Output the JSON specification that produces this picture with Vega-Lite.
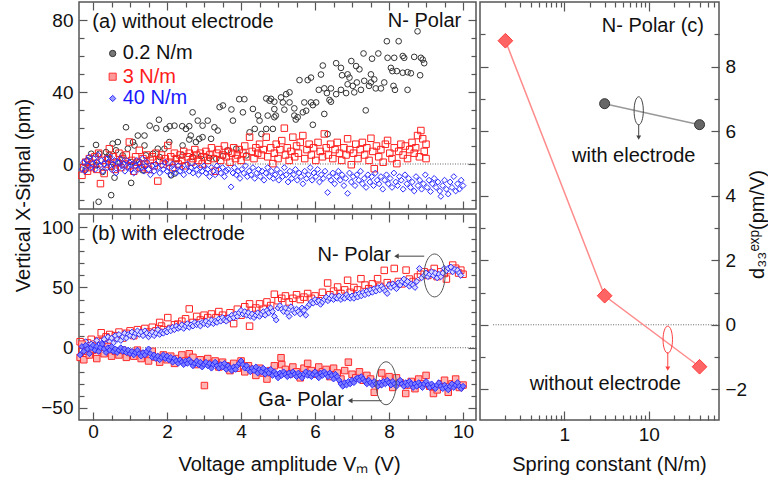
{
"$schema":"https://vega.github.io/schema/vega-lite/v6.json",
"padding":{"left":12,"top":0,"right":0,"bottom":0},
"config":{
 "font":"Liberation Sans",
 "view":{"stroke":"#555","strokeWidth":1.5},
 "point":{"opacity":1,"strokeWidth":1},
 "text":{"font":"Liberation Sans","fontSize":20,"color":"#111"},
 "axis":{"domain":false,"grid":false,"tickColor":"#555","tickWidth":1.2,"labelFont":"Liberation Sans","labelFontSize":19,"labelColor":"#111","titleFont":"Liberation Sans","titleFontSize":20,"titleFontWeight":"normal","titleColor":"#111","labelFlush":false,"labelOverlap":false,"labelPadding":14}
},
"datasets":{
"a_k":[{"x":-0.2,"y":-3},{"x":-0.15,"y":2},{"x":-0.05,"y":5.7},{"x":0.08,"y":10.6},{"x":0.08,"y":-0.7},{"x":0.15,"y":-21},{"x":0.17,"y":5.7},{"x":0.26,"y":-4.4},{"x":0.35,"y":6.6},{"x":0.4,"y":2.9},{"x":0.44,"y":5.2},{"x":0.49,"y":-17.3},{"x":0.49,"y":-1.7},{"x":0.53,"y":11.3},{"x":0.58,"y":-7.6},{"x":0.62,"y":7.6},{"x":0.67,"y":12.2},{"x":0.72,"y":0.7},{"x":0.8,"y":4.8},{"x":0.89,"y":20.4},{"x":0.94,"y":8.5},{"x":1.03,"y":-10.5},{"x":1.03,"y":1.1},{"x":1.08,"y":12.2},{"x":1.12,"y":10.3},{"x":1.21,"y":15.8},{"x":1.25,"y":1.1},{"x":1.34,"y":-3.5},{"x":1.39,"y":15.8},{"x":1.39,"y":10.3},{"x":1.43,"y":4.8},{"x":1.53,"y":21.3},{"x":1.62,"y":5.7},{"x":1.71,"y":19.9},{"x":1.75,"y":8.5},{"x":1.78,"y":24.6},{"x":1.8,"y":3.9},{"x":1.93,"y":8.5},{"x":1.98,"y":19.5},{"x":2.06,"y":12.2},{"x":2.07,"y":21},{"x":2.11,"y":-6.3},{"x":2.2,"y":21.3},{"x":2.2,"y":-5.3},{"x":2.24,"y":2.9},{"x":2.41,"y":21},{"x":2.42,"y":10.3},{"x":2.42,"y":4.8},{"x":2.51,"y":19.5},{"x":2.6,"y":21},{"x":2.6,"y":13.6},{"x":2.64,"y":15.8},{"x":2.69,"y":28.7},{"x":2.69,"y":3.9},{"x":2.78,"y":12.2},{"x":2.83,"y":24.1},{"x":2.87,"y":14},{"x":2.92,"y":4.4},{"x":2.96,"y":21.3},{"x":2.96,"y":14.9},{"x":3.1,"y":24.1},{"x":3.14,"y":3.3},{"x":3.19,"y":14},{"x":3.28,"y":20.4},{"x":3.33,"y":2.9},{"x":3.37,"y":18.6},{"x":3.42,"y":31.6},{"x":3.51,"y":32.5},{"x":3.51,"y":4.4},{"x":3.64,"y":7.6},{"x":3.74,"y":30.3},{"x":3.78,"y":24.1},{"x":3.87,"y":8.5},{"x":3.95,"y":36},{"x":4.05,"y":28.7},{"x":4.09,"y":36},{"x":4.14,"y":4.8},{"x":4.23,"y":17.6},{"x":4.32,"y":30.6},{"x":4.37,"y":19.5},{"x":4.46,"y":27},{"x":4.5,"y":24.1},{"x":4.55,"y":16.7},{"x":4.68,"y":36.4},{"x":4.68,"y":19.5},{"x":4.72,"y":26.9},{"x":4.77,"y":35.2},{"x":4.81,"y":36.2},{"x":4.86,"y":19.5},{"x":4.9,"y":26},{"x":4.9,"y":34.6},{"x":4.9,"y":30.5},{"x":4.94,"y":26.9},{"x":5.08,"y":37},{"x":5.13,"y":34.2},{"x":5.17,"y":30.2},{"x":5.22,"y":38.8},{"x":5.31,"y":39.8},{"x":5.31,"y":34.2},{"x":5.44,"y":30.9},{"x":5.44,"y":26.9},{"x":5.48,"y":24.7},{"x":5.53,"y":26},{"x":5.58,"y":46.6},{"x":5.67,"y":28.7},{"x":5.71,"y":34.2},{"x":5.76,"y":29.6},{"x":5.8,"y":46.6},{"x":5.89,"y":48},{"x":5.89,"y":34.2},{"x":5.94,"y":32.7},{"x":5.94,"y":21.8},{"x":6.03,"y":34.2},{"x":6.1,"y":41.2},{"x":6.16,"y":49.7},{"x":6.21,"y":54.7},{"x":6.25,"y":42},{"x":6.25,"y":27.8},{"x":6.32,"y":39.4},{"x":6.34,"y":16.6},{"x":6.39,"y":35.6},{"x":6.43,"y":42},{"x":6.43,"y":34.6},{"x":6.57,"y":56},{"x":6.57,"y":38.8},{"x":6.7,"y":53.4},{"x":6.7,"y":41.2},{"x":6.73,"y":49.3},{"x":6.84,"y":39.4},{"x":6.88,"y":49.8},{"x":6.88,"y":44.3},{"x":6.93,"y":48},{"x":6.98,"y":57.2},{"x":7.02,"y":43.4},{"x":7.06,"y":39.8},{"x":7.11,"y":54.4},{"x":7.13,"y":45.3},{"x":7.2,"y":52.6},{"x":7.24,"y":41.2},{"x":7.31,"y":61.4},{"x":7.33,"y":46.2},{"x":7.37,"y":29.8},{"x":7.46,"y":43.4},{"x":7.51,"y":49.8},{"x":7.51,"y":45.3},{"x":7.54,"y":58.5},{"x":7.6,"y":47},{"x":7.64,"y":42},{"x":7.71,"y":61.4},{"x":7.78,"y":42},{"x":7.87,"y":45.3},{"x":7.94,"y":68.2},{"x":7.96,"y":59},{"x":8.05,"y":53.4},{"x":8.09,"y":51.6},{"x":8.12,"y":43.4},{"x":8.14,"y":59},{"x":8.16,"y":41.2},{"x":8.21,"y":51.6},{"x":8.26,"y":68.2},{"x":8.37,"y":60},{"x":8.37,"y":50.7},{"x":8.41,"y":59},{"x":8.5,"y":51},{"x":8.5,"y":41.2},{"x":8.59,"y":50.4},{"x":8.68,"y":59.5},{"x":8.77,"y":73.7},{"x":8.84,"y":49.3},{"x":8.86,"y":59},{"x":8.91,"y":58},{"x":8.95,"y":56}],
"a_r":[{"x":-0.3,"y":-6.3},{"x":-0.25,"y":-2},{"x":-0.2,"y":1},{"x":-0.15,"y":-4},{"x":-0.1,"y":3},{"x":-0.05,"y":-2},{"x":0,"y":0},{"x":0.05,"y":4},{"x":0.1,"y":-3},{"x":0.15,"y":6},{"x":0.2,"y":-10.9},{"x":0.25,"y":2},{"x":0.3,"y":-5.3},{"x":0.35,"y":0},{"x":0.4,"y":3},{"x":0.44,"y":8.5},{"x":0.5,"y":-1},{"x":0.55,"y":4},{"x":0.6,"y":-3},{"x":0.65,"y":1},{"x":0.7,"y":6},{"x":0.75,"y":-2},{"x":0.8,"y":3},{"x":0.85,"y":0},{"x":0.9,"y":5},{"x":0.98,"y":12.2},{"x":1,"y":-1},{"x":1.05,"y":2},{"x":1.1,"y":-4},{"x":1.15,"y":4},{"x":1.2,"y":1},{"x":1.25,"y":7.6},{"x":1.3,"y":-2},{"x":1.35,"y":3},{"x":1.4,"y":0},{"x":1.45,"y":5},{"x":1.5,"y":-3},{"x":1.55,"y":2},{"x":1.6,"y":4},{"x":1.65,"y":-1},{"x":1.7,"y":6},{"x":1.75,"y":-9.5},{"x":1.8,"y":2},{"x":1.85,"y":5},{"x":1.9,"y":0},{"x":1.95,"y":3},{"x":2.02,"y":10.3},{"x":2.05,"y":1},{"x":2.1,"y":4},{"x":2.15,"y":-2},{"x":2.2,"y":6},{"x":2.25,"y":3},{"x":2.3,"y":0},{"x":2.35,"y":5},{"x":2.4,"y":2},{"x":2.45,"y":7},{"x":2.5,"y":-1},{"x":2.55,"y":4},{"x":2.6,"y":6},{"x":2.65,"y":1},{"x":2.7,"y":3},{"x":2.75,"y":8},{"x":2.8,"y":5},{"x":2.85,"y":2},{"x":2.9,"y":6},{"x":2.95,"y":0},{"x":3,"y":4},{"x":3.05,"y":7},{"x":3.1,"y":2},{"x":3.15,"y":5},{"x":3.2,"y":9},{"x":3.25,"y":3},{"x":3.3,"y":-4},{"x":3.35,"y":6},{"x":3.4,"y":8},{"x":3.45,"y":2},{"x":3.5,"y":5},{"x":3.55,"y":10},{"x":3.6,"y":4},{"x":3.65,"y":7},{"x":3.7,"y":1},{"x":3.75,"y":6},{"x":3.8,"y":9},{"x":3.85,"y":3},{"x":3.9,"y":5},{"x":3.95,"y":8},{"x":4,"y":2},{"x":4.05,"y":6},{"x":4.1,"y":10},{"x":4.15,"y":4},{"x":4.23,"y":14.9},{"x":4.3,"y":7},{"x":4.35,"y":3},{"x":4.4,"y":9},{"x":4.45,"y":6},{"x":4.5,"y":11},{"x":4.55,"y":5},{"x":4.6,"y":8},{"x":4.68,"y":14.9},{"x":4.72,"y":4},{"x":4.8,"y":9},{"x":4.86,"y":0.2},{"x":4.9,"y":6},{"x":4.95,"y":11},{"x":5,"y":3},{"x":5.05,"y":8},{"x":5.1,"y":13},{"x":5.17,"y":19.9},{"x":5.2,"y":5},{"x":5.25,"y":9},{"x":5.3,"y":2},{"x":5.35,"y":7},{"x":5.4,"y":14.9},{"x":5.45,"y":4},{"x":5.5,"y":10},{"x":5.55,"y":6},{"x":5.6,"y":12},{"x":5.67,"y":15.8},{"x":5.72,"y":3},{"x":5.78,"y":8},{"x":5.84,"y":11},{"x":5.9,"y":5},{"x":5.96,"y":9},{"x":6.02,"y":2},{"x":6.08,"y":12},{"x":6.14,"y":7},{"x":6.2,"y":4},{"x":6.25,"y":16.7},{"x":6.3,"y":9},{"x":6.36,"y":5},{"x":6.42,"y":11},{"x":6.48,"y":3},{"x":6.54,"y":8},{"x":6.6,"y":12},{"x":6.66,"y":6},{"x":6.72,"y":2},{"x":6.78,"y":9},{"x":6.84,"y":5},{"x":6.88,"y":14},{"x":6.94,"y":8},{"x":6.98,"y":-0.4},{"x":7.04,"y":6},{"x":7.1,"y":11},{"x":7.16,"y":3},{"x":7.22,"y":8},{"x":7.28,"y":12},{"x":7.34,"y":5},{"x":7.4,"y":9},{"x":7.46,"y":2},{"x":7.51,"y":14.3},{"x":7.56,"y":7},{"x":7.6,"y":-2.6},{"x":7.66,"y":10},{"x":7.72,"y":4},{"x":7.78,"y":8},{"x":7.84,"y":1},{"x":7.9,"y":11},{"x":7.96,"y":13.1},{"x":8.02,"y":6},{"x":8.08,"y":3},{"x":8.14,"y":9},{"x":8.21,"y":0.2},{"x":8.26,"y":7},{"x":8.32,"y":11},{"x":8.38,"y":5},{"x":8.44,"y":10},{"x":8.5,"y":3},{"x":8.56,"y":8},{"x":8.62,"y":12},{"x":8.68,"y":6},{"x":8.72,"y":9},{"x":8.77,"y":15.8},{"x":8.82,"y":4},{"x":8.86,"y":18.6},{"x":8.91,"y":14},{"x":8.95,"y":7},{"x":9,"y":11},{"x":9,"y":3}],
"a_b":[{"x":-0.3,"y":-3},{"x":-0.26,"y":1},{"x":-0.22,"y":-4},{"x":-0.18,"y":2},{"x":-0.14,"y":-1},{"x":-0.1,"y":4},{"x":-0.06,"y":-2},{"x":-0.02,"y":0},{"x":0.02,"y":3},{"x":0.06,"y":-3},{"x":0.1,"y":1},{"x":0.14,"y":5},{"x":0.18,"y":-1},{"x":0.22,"y":2},{"x":0.26,"y":-4},{"x":0.3,"y":0},{"x":0.34,"y":3},{"x":0.38,"y":-2},{"x":0.42,"y":1},{"x":0.46,"y":4},{"x":0.5,"y":-3},{"x":0.54,"y":0},{"x":0.58,"y":2},{"x":0.62,"y":-5},{"x":0.66,"y":1},{"x":0.7,"y":-2},{"x":0.74,"y":3},{"x":0.78,"y":-1},{"x":0.82,"y":0},{"x":0.86,"y":-4},{"x":0.9,"y":2},{"x":0.94,"y":-2},{"x":0.98,"y":1},{"x":1.02,"y":-3},{"x":1.06,"y":0},{"x":1.1,"y":-5},{"x":1.14,"y":-1},{"x":1.18,"y":2},{"x":1.22,"y":-3},{"x":1.26,"y":0},{"x":1.3,"y":-2},{"x":1.34,"y":3},{"x":1.38,"y":-4},{"x":1.42,"y":-1},{"x":1.46,"y":1},{"x":1.5,"y":-3},{"x":1.55,"y":-6},{"x":1.6,"y":-1},{"x":1.65,"y":-4},{"x":1.7,"y":0},{"x":1.75,"y":-2},{"x":1.8,"y":-5},{"x":1.85,"y":-1},{"x":1.9,"y":-3},{"x":1.95,"y":1},{"x":2,"y":-4},{"x":2.05,"y":-2},{"x":2.1,"y":-6},{"x":2.15,"y":0},{"x":2.2,"y":-3},{"x":2.25,"y":-5},{"x":2.3,"y":-1},{"x":2.35,"y":-4},{"x":2.4,"y":-2},{"x":2.45,"y":-6},{"x":2.5,"y":-3},{"x":2.55,"y":0},{"x":2.6,"y":-4},{"x":2.65,"y":-2},{"x":2.7,"y":-5},{"x":2.75,"y":-1},{"x":2.8,"y":-3},{"x":2.85,"y":-6},{"x":2.9,"y":-2},{"x":2.95,"y":-4},{"x":3,"y":-1},{"x":3.05,"y":-5},{"x":3.1,"y":-3},{"x":3.15,"y":-7},{"x":3.2,"y":-2},{"x":3.25,"y":-4},{"x":3.3,"y":-6},{"x":3.35,"y":-1},{"x":3.4,"y":-3},{"x":3.45,"y":-5},{"x":3.5,"y":-2},{"x":3.55,"y":-7},{"x":3.6,"y":-4},{"x":3.65,"y":-3},{"x":3.73,"y":-12.7},{"x":3.78,"y":-5},{"x":3.82,"y":-2},{"x":3.87,"y":-6},{"x":3.92,"y":-4},{"x":3.97,"y":-8},{"x":4.02,"y":-3},{"x":4.07,"y":-5},{"x":4.12,"y":-1},{"x":4.17,"y":-7},{"x":4.22,"y":-4},{"x":4.27,"y":-6},{"x":4.32,"y":-2},{"x":4.37,"y":-8},{"x":4.42,"y":-5},{"x":4.47,"y":-3},{"x":4.52,"y":-7},{"x":4.57,"y":-4},{"x":4.62,"y":-9},{"x":4.67,"y":-5},{"x":4.72,"y":-2},{"x":4.77,"y":-7},{"x":4.82,"y":-4},{"x":4.87,"y":-8},{"x":4.92,"y":-6},{"x":4.97,"y":-3},{"x":5.02,"y":-9},{"x":5.07,"y":-5},{"x":5.12,"y":-7},{"x":5.17,"y":-2},{"x":5.22,"y":-6},{"x":5.27,"y":-10},{"x":5.32,"y":-4},{"x":5.37,"y":-8},{"x":5.42,"y":-6},{"x":5.47,"y":-3},{"x":5.52,"y":-9},{"x":5.57,"y":-5},{"x":5.62,"y":-7},{"x":5.67,"y":-11},{"x":5.72,"y":-4},{"x":5.77,"y":-8},{"x":5.82,"y":-6},{"x":5.87,"y":-2},{"x":5.92,"y":-9},{"x":5.97,"y":-5},{"x":6.02,"y":-7},{"x":6.07,"y":-3},{"x":6.12,"y":-10},{"x":6.17,"y":-6},{"x":6.22,"y":-8},{"x":6.27,"y":-4},{"x":6.34,"y":-15.8},{"x":6.38,"y":-7},{"x":6.43,"y":-9},{"x":6.48,"y":-5},{"x":6.53,"y":-11},{"x":6.58,"y":-7},{"x":6.63,"y":-4},{"x":6.68,"y":-9},{"x":6.73,"y":-6},{"x":6.78,"y":-12},{"x":6.83,"y":-8},{"x":6.88,"y":-16.3},{"x":6.93,"y":-5},{"x":6.98,"y":-10},{"x":7.03,"y":-7},{"x":7.08,"y":-12},{"x":7.13,"y":-6},{"x":7.18,"y":-9},{"x":7.23,"y":-4},{"x":7.28,"y":-11},{"x":7.33,"y":-8},{"x":7.38,"y":-13},{"x":7.43,"y":-6},{"x":7.48,"y":-10},{"x":7.53,"y":-7},{"x":7.58,"y":-12},{"x":7.63,"y":-5},{"x":7.68,"y":-9},{"x":7.73,"y":-11},{"x":7.78,"y":-7},{"x":7.83,"y":-14},{"x":7.88,"y":-9},{"x":7.93,"y":-6},{"x":7.98,"y":-11},{"x":8.03,"y":-8},{"x":8.08,"y":-13},{"x":8.13,"y":-5},{"x":8.18,"y":-10},{"x":8.23,"y":-12},{"x":8.28,"y":-7},{"x":8.33,"y":-9},{"x":8.38,"y":-14},{"x":8.43,"y":-6},{"x":8.48,"y":-11},{"x":8.53,"y":-8},{"x":8.58,"y":-13},{"x":8.63,"y":-10},{"x":8.68,"y":-15},{"x":8.73,"y":-7},{"x":8.78,"y":-12},{"x":8.83,"y":-9},{"x":8.88,"y":-14},{"x":8.93,"y":-11},{"x":8.98,"y":-6},{"x":9.03,"y":-13},{"x":9.08,"y":-9},{"x":9.12,"y":-15.3},{"x":9.17,"y":-11},{"x":9.22,"y":-8},{"x":9.27,"y":-13},{"x":9.32,"y":-10},{"x":9.37,"y":-15},{"x":9.4,"y":-18},{"x":9.45,"y":-12},{"x":9.5,"y":-9},{"x":9.55,"y":-14},{"x":9.6,"y":-16.7},{"x":9.65,"y":-10},{"x":9.7,"y":-13},{"x":9.75,"y":-7},{"x":9.8,"y":-15},{"x":9.85,"y":-11},{"x":9.9,"y":-14},{"x":9.95,"y":-9},{"x":10,"y":-12}],
"b_bn":[{"x":-0.35,"y":-8},{"x":-0.3,"y":2},{"x":-0.25,"y":-3},{"x":-0.2,"y":5},{"x":-0.15,"y":0},{"x":-0.1,"y":-4},{"x":-0.05,"y":3},{"x":0,"y":1},{"x":0.05,"y":-2},{"x":0.1,"y":6},{"x":0.15,"y":2},{"x":0.2,"y":-1},{"x":0.25,"y":4},{"x":0.3,"y":7},{"x":0.35,"y":3},{"x":0.4,"y":9},{"x":0.45,"y":5},{"x":0.5,"y":8},{"x":0.55,"y":4},{"x":0.6,"y":10},{"x":0.65,"y":7},{"x":0.7,"y":11},{"x":0.75,"y":6},{"x":0.8,"y":9},{"x":0.85,"y":12},{"x":0.9,"y":8},{"x":0.95,"y":11},{"x":1,"y":10},{"x":1.05,"y":13},{"x":1.1,"y":9},{"x":1.15,"y":12},{"x":1.2,"y":14},{"x":1.25,"y":11},{"x":1.3,"y":13},{"x":1.35,"y":10},{"x":1.4,"y":14},{"x":1.45,"y":12},{"x":1.5,"y":9},{"x":1.55,"y":11},{"x":1.6,"y":13},{"x":1.65,"y":10},{"x":1.7,"y":12},{"x":1.75,"y":15},{"x":1.8,"y":11},{"x":1.85,"y":13},{"x":1.9,"y":12},{"x":1.95,"y":14},{"x":2,"y":13},{"x":2.05,"y":16},{"x":2.1,"y":14},{"x":2.15,"y":17},{"x":2.2,"y":15},{"x":2.25,"y":18},{"x":2.3,"y":16},{"x":2.35,"y":17},{"x":2.4,"y":19},{"x":2.45,"y":16},{"x":2.5,"y":18},{"x":2.55,"y":20},{"x":2.6,"y":17},{"x":2.65,"y":19},{"x":2.7,"y":18},{"x":2.75,"y":21},{"x":2.8,"y":19},{"x":2.85,"y":20},{"x":2.9,"y":18},{"x":2.95,"y":21},{"x":3,"y":20},{"x":3.05,"y":22},{"x":3.1,"y":19},{"x":3.15,"y":21},{"x":3.2,"y":23},{"x":3.25,"y":20},{"x":3.3,"y":22},{"x":3.35,"y":21},{"x":3.4,"y":24},{"x":3.45,"y":22},{"x":3.5,"y":25},{"x":3.55,"y":23},{"x":3.6,"y":22},{"x":3.65,"y":25},{"x":3.7,"y":24},{"x":3.75,"y":27},{"x":3.8,"y":25},{"x":3.85,"y":28},{"x":3.9,"y":26},{"x":3.95,"y":29},{"x":4,"y":31},{"x":4.05,"y":28},{"x":4.1,"y":30},{"x":4.15,"y":27},{"x":4.2,"y":29},{"x":4.25,"y":26},{"x":4.3,"y":28},{"x":4.35,"y":25},{"x":4.4,"y":27},{"x":4.45,"y":29},{"x":4.5,"y":26},{"x":4.55,"y":28},{"x":4.6,"y":30},{"x":4.65,"y":27},{"x":4.7,"y":31},{"x":4.75,"y":29},{"x":4.8,"y":33},{"x":4.85,"y":30},{"x":4.9,"y":26},{"x":4.95,"y":23},{"x":5,"y":33},{"x":5.05,"y":35},{"x":5.1,"y":32},{"x":5.15,"y":30},{"x":5.2,"y":33},{"x":5.25,"y":29},{"x":5.3,"y":26},{"x":5.35,"y":34},{"x":5.4,"y":31},{"x":5.45,"y":29},{"x":5.5,"y":32},{"x":5.55,"y":30},{"x":5.6,"y":28},{"x":5.65,"y":33},{"x":5.7,"y":31},{"x":5.75,"y":27},{"x":5.8,"y":34},{"x":5.85,"y":36},{"x":5.9,"y":38},{"x":5.95,"y":37},{"x":6,"y":40},{"x":6.05,"y":38},{"x":6.1,"y":39},{"x":6.15,"y":36},{"x":6.2,"y":38},{"x":6.25,"y":40},{"x":6.3,"y":42},{"x":6.35,"y":39},{"x":6.4,"y":41},{"x":6.45,"y":43},{"x":6.5,"y":40},{"x":6.55,"y":42},{"x":6.6,"y":41},{"x":6.65,"y":43},{"x":6.7,"y":40},{"x":6.75,"y":42},{"x":6.8,"y":41},{"x":6.85,"y":44},{"x":6.9,"y":42},{"x":6.95,"y":41},{"x":7,"y":43},{"x":7.05,"y":41},{"x":7.1,"y":44},{"x":7.15,"y":42},{"x":7.2,"y":45},{"x":7.25,"y":43},{"x":7.3,"y":46},{"x":7.35,"y":44},{"x":7.4,"y":47},{"x":7.45,"y":45},{"x":7.5,"y":48},{"x":7.55,"y":46},{"x":7.6,"y":49},{"x":7.65,"y":47},{"x":7.7,"y":50},{"x":7.75,"y":48},{"x":7.8,"y":51},{"x":7.85,"y":49},{"x":7.9,"y":47},{"x":7.95,"y":45},{"x":8,"y":52},{"x":8.05,"y":50},{"x":8.1,"y":53},{"x":8.15,"y":51},{"x":8.2,"y":49},{"x":8.25,"y":54},{"x":8.3,"y":52},{"x":8.35,"y":55},{"x":8.4,"y":57},{"x":8.45,"y":53},{"x":8.5,"y":55},{"x":8.55,"y":51},{"x":8.6,"y":53},{"x":8.65,"y":52},{"x":8.7,"y":50},{"x":8.75,"y":55},{"x":8.82,"y":65.8},{"x":8.88,"y":58},{"x":8.95,"y":60},{"x":9,"y":62},{"x":9.05,"y":59},{"x":9.1,"y":61},{"x":9.15,"y":63},{"x":9.2,"y":60},{"x":9.25,"y":62},{"x":9.3,"y":58},{"x":9.35,"y":61},{"x":9.4,"y":59},{"x":9.45,"y":62},{"x":9.49,"y":65.8},{"x":9.55,"y":64},{"x":9.6,"y":66},{"x":9.67,"y":67},{"x":9.72,"y":63},{"x":9.78,"y":65},{"x":9.85,"y":64.4},{"x":9.9,"y":62},{"x":9.94,"y":60}],
"b_rn":[{"x":-0.35,"y":5},{"x":-0.3,"y":-3},{"x":-0.25,"y":2},{"x":-0.2,"y":-6},{"x":-0.15,"y":4},{"x":-0.1,"y":0},{"x":-0.05,"y":7},{"x":0,"y":-2},{"x":0.05,"y":3},{"x":0.1,"y":-4},{"x":0.15,"y":6},{"x":0.22,"y":12.4},{"x":0.25,"y":5},{"x":0.3,"y":2},{"x":0.35,"y":9},{"x":0.4,"y":4},{"x":0.45,"y":11},{"x":0.5,"y":7},{"x":0.6,"y":10},{"x":0.7,"y":13},{"x":0.8,"y":8},{"x":0.9,"y":12},{"x":1,"y":14},{"x":1.1,"y":10},{"x":1.2,"y":15},{"x":1.3,"y":12},{"x":1.4,"y":16},{"x":1.5,"y":13},{"x":1.6,"y":17},{"x":1.7,"y":14},{"x":1.8,"y":21},{"x":1.85,"y":18},{"x":1.9,"y":15},{"x":2.02,"y":25},{"x":2.1,"y":16},{"x":2.2,"y":19},{"x":2.29,"y":19.6},{"x":2.4,"y":22},{"x":2.5,"y":24},{"x":2.6,"y":32.2},{"x":2.7,"y":21},{"x":2.8,"y":26},{"x":2.9,"y":23},{"x":3,"y":27},{"x":3.1,"y":25},{"x":3.2,"y":28},{"x":3.32,"y":25},{"x":3.4,"y":30},{"x":3.5,"y":27},{"x":3.6,"y":24},{"x":3.7,"y":29},{"x":3.8,"y":20},{"x":3.9,"y":32},{"x":4,"y":27},{"x":4.1,"y":34},{"x":4.23,"y":17.9},{"x":4.23,"y":36.4},{"x":4.3,"y":31},{"x":4.4,"y":33},{"x":4.5,"y":36.4},{"x":4.6,"y":32},{"x":4.7,"y":38},{"x":4.8,"y":35},{"x":4.9,"y":44.4},{"x":5,"y":39},{"x":5.1,"y":41},{"x":5.2,"y":43},{"x":5.3,"y":38},{"x":5.4,"y":41},{"x":5.5,"y":44},{"x":5.6,"y":40},{"x":5.7,"y":42},{"x":5.8,"y":45},{"x":5.9,"y":41},{"x":6,"y":43},{"x":6.1,"y":39},{"x":6.2,"y":46},{"x":6.34,"y":53.7},{"x":6.4,"y":44},{"x":6.5,"y":47},{"x":6.61,"y":50.4},{"x":6.7,"y":45},{"x":6.8,"y":48},{"x":6.88,"y":56},{"x":6.95,"y":46},{"x":7.05,"y":50},{"x":7.15,"y":48},{"x":7.24,"y":57.3},{"x":7.35,"y":52},{"x":7.45,"y":49},{"x":7.55,"y":53},{"x":7.69,"y":57.3},{"x":7.75,"y":51},{"x":7.87,"y":64.2},{"x":7.95,"y":54},{"x":8.05,"y":52},{"x":8.14,"y":65.8},{"x":8.25,"y":55},{"x":8.35,"y":53},{"x":8.46,"y":64.4},{"x":8.55,"y":57},{"x":8.65,"y":55},{"x":8.77,"y":58.7},{"x":8.85,"y":61},{"x":8.95,"y":63},{"x":9.05,"y":60},{"x":9.15,"y":62},{"x":9.22,"y":65.8},{"x":9.3,"y":59},{"x":9.4,"y":63},{"x":9.49,"y":61.6},{"x":9.55,"y":57},{"x":9.63,"y":64},{"x":9.72,"y":68.6},{"x":9.8,"y":66},{"x":9.88,"y":62},{"x":9.94,"y":64.4},{"x":10,"y":61}],
"b_bg":[{"x":-0.35,"y":-6},{"x":-0.3,"y":1},{"x":-0.25,"y":-3},{"x":-0.2,"y":2},{"x":-0.15,"y":-1},{"x":-0.1,"y":-5},{"x":-0.05,"y":0},{"x":0,"y":2},{"x":0.05,"y":-2},{"x":0.1,"y":1},{"x":0.15,"y":-3},{"x":0.2,"y":0},{"x":0.25,"y":3},{"x":0.3,"y":-1},{"x":0.35,"y":-4},{"x":0.4,"y":0},{"x":0.45,"y":-2},{"x":0.5,"y":1},{"x":0.55,"y":-3},{"x":0.6,"y":-1},{"x":0.65,"y":-4},{"x":0.7,"y":-2},{"x":0.75,"y":0},{"x":0.8,"y":-3},{"x":0.85,"y":-1},{"x":0.9,"y":-4},{"x":0.95,"y":-2},{"x":1,"y":-5},{"x":1.05,"y":-3},{"x":1.1,"y":-6},{"x":1.15,"y":-4},{"x":1.2,"y":-2},{"x":1.25,"y":-5},{"x":1.3,"y":-7},{"x":1.35,"y":-4},{"x":1.4,"y":-6},{"x":1.45,"y":-3},{"x":1.5,"y":-1},{"x":1.55,"y":-5},{"x":1.6,"y":-8},{"x":1.65,"y":-6},{"x":1.7,"y":-9},{"x":1.75,"y":-7},{"x":1.8,"y":-10},{"x":1.85,"y":-8},{"x":1.9,"y":-6},{"x":1.95,"y":-9},{"x":2,"y":-7},{"x":2.05,"y":-10},{"x":2.1,"y":-8},{"x":2.15,"y":-12},{"x":2.2,"y":-9},{"x":2.25,"y":-11},{"x":2.3,"y":-13},{"x":2.35,"y":-10},{"x":2.4,"y":-12},{"x":2.45,"y":-14},{"x":2.5,"y":-11},{"x":2.55,"y":-13},{"x":2.6,"y":-10},{"x":2.65,"y":-12},{"x":2.7,"y":-15},{"x":2.75,"y":-13},{"x":2.8,"y":-11},{"x":2.85,"y":-14},{"x":2.9,"y":-12},{"x":2.95,"y":-16},{"x":3,"y":-14},{"x":3.05,"y":-12},{"x":3.1,"y":-15},{"x":3.15,"y":-13},{"x":3.2,"y":-17},{"x":3.25,"y":-14},{"x":3.3,"y":-12},{"x":3.35,"y":-15},{"x":3.4,"y":-17},{"x":3.45,"y":-14},{"x":3.5,"y":-16},{"x":3.55,"y":-13},{"x":3.6,"y":-18},{"x":3.65,"y":-15},{"x":3.7,"y":-17},{"x":3.75,"y":-19},{"x":3.8,"y":-16},{"x":3.85,"y":-18},{"x":3.9,"y":-15},{"x":3.95,"y":-13},{"x":4,"y":-11},{"x":4.05,"y":-14},{"x":4.1,"y":-17},{"x":4.15,"y":-15},{"x":4.2,"y":-18},{"x":4.25,"y":-20},{"x":4.3,"y":-17},{"x":4.35,"y":-19},{"x":4.4,"y":-16},{"x":4.45,"y":-21},{"x":4.5,"y":-18},{"x":4.55,"y":-20},{"x":4.6,"y":-17},{"x":4.65,"y":-22},{"x":4.7,"y":-19},{"x":4.75,"y":-21},{"x":4.8,"y":-18},{"x":4.85,"y":-23},{"x":4.9,"y":-20},{"x":4.95,"y":-22},{"x":5,"y":-25},{"x":5.05,"y":-21},{"x":5.1,"y":-23},{"x":5.15,"y":-20},{"x":5.2,"y":-22},{"x":5.25,"y":-24},{"x":5.3,"y":-21},{"x":5.35,"y":-23},{"x":5.4,"y":-20},{"x":5.45,"y":-22},{"x":5.5,"y":-24},{"x":5.55,"y":-21},{"x":5.6,"y":-23},{"x":5.65,"y":-25},{"x":5.7,"y":-22},{"x":5.75,"y":-20},{"x":5.8,"y":-23},{"x":5.85,"y":-21},{"x":5.9,"y":-24},{"x":5.95,"y":-22},{"x":6,"y":-20},{"x":6.05,"y":-23},{"x":6.1,"y":-25},{"x":6.15,"y":-21},{"x":6.2,"y":-23},{"x":6.25,"y":-20},{"x":6.3,"y":-22},{"x":6.35,"y":-24},{"x":6.4,"y":-21},{"x":6.45,"y":-23},{"x":6.5,"y":-26},{"x":6.55,"y":-22},{"x":6.6,"y":-24},{"x":6.65,"y":-27},{"x":6.7,"y":-30},{"x":6.75,"y":-32},{"x":6.8,"y":-29},{"x":6.85,"y":-31},{"x":6.9,"y":-28},{"x":6.95,"y":-30},{"x":7,"y":-27},{"x":7.05,"y":-29},{"x":7.1,"y":-26},{"x":7.15,"y":-25},{"x":7.2,"y":-27},{"x":7.25,"y":-24},{"x":7.3,"y":-26},{"x":7.35,"y":-28},{"x":7.4,"y":-30},{"x":7.45,"y":-27},{"x":7.5,"y":-29},{"x":7.55,"y":-31},{"x":7.6,"y":-28},{"x":7.65,"y":-30},{"x":7.7,"y":-32},{"x":7.75,"y":-29},{"x":7.8,"y":-31},{"x":7.85,"y":-28},{"x":7.9,"y":-30},{"x":7.95,"y":-27},{"x":8,"y":-29},{"x":8.05,"y":-31},{"x":8.1,"y":-28},{"x":8.15,"y":-30},{"x":8.2,"y":-32},{"x":8.25,"y":-29},{"x":8.3,"y":-27},{"x":8.35,"y":-30},{"x":8.4,"y":-32},{"x":8.45,"y":-29},{"x":8.5,"y":-31},{"x":8.55,"y":-28},{"x":8.6,"y":-30},{"x":8.65,"y":-33},{"x":8.7,"y":-30},{"x":8.75,"y":-32},{"x":8.8,"y":-29},{"x":8.85,"y":-31},{"x":8.9,"y":-33},{"x":8.95,"y":-30},{"x":9,"y":-28},{"x":9.05,"y":-31},{"x":9.1,"y":-33},{"x":9.15,"y":-30},{"x":9.2,"y":-32},{"x":9.25,"y":-34},{"x":9.3,"y":-31},{"x":9.35,"y":-29},{"x":9.4,"y":-32},{"x":9.45,"y":-34},{"x":9.5,"y":-31},{"x":9.55,"y":-33},{"x":9.6,"y":-35},{"x":9.65,"y":-32},{"x":9.7,"y":-30},{"x":9.75,"y":-33},{"x":9.8,"y":-31},{"x":9.85,"y":-29},{"x":9.9,"y":-32},{"x":9.95,"y":-34},{"x":10,"y":-32}],
"b_rg":[{"x":-0.35,"y":-8},{"x":-0.3,"y":3},{"x":-0.25,"y":-10},{"x":-0.2,"y":-3},{"x":-0.1,"y":-6},{"x":0,"y":-1},{"x":0.1,"y":-9},{"x":0.2,"y":-2},{"x":0.3,"y":-5},{"x":0.4,"y":1},{"x":0.5,"y":-7},{"x":0.6,"y":-3},{"x":0.7,"y":-6},{"x":0.8,"y":-2},{"x":0.9,"y":-8},{"x":1,"y":-4},{"x":1.1,"y":-7},{"x":1.2,"y":-2},{"x":1.3,"y":-9},{"x":1.4,"y":-5},{"x":1.5,"y":-11},{"x":1.6,"y":-3},{"x":1.7,"y":-8},{"x":1.8,"y":-12},{"x":1.9,"y":-6},{"x":2,"y":-10},{"x":2.1,"y":-7},{"x":2.2,"y":-13},{"x":2.3,"y":-9},{"x":2.4,"y":-6},{"x":2.5,"y":-11},{"x":2.6,"y":-5},{"x":2.7,"y":-8},{"x":2.8,"y":-14},{"x":2.9,"y":-10},{"x":3.01,"y":-31.4},{"x":3.1,"y":-9},{"x":3.2,"y":-13},{"x":3.3,"y":-11},{"x":3.4,"y":-16},{"x":3.5,"y":-12},{"x":3.6,"y":-15},{"x":3.7,"y":-19},{"x":3.8,"y":-13},{"x":3.9,"y":-17},{"x":4,"y":-11},{"x":4.1,"y":-20},{"x":4.2,"y":-15},{"x":4.3,"y":-18},{"x":4.4,"y":-23},{"x":4.5,"y":-17},{"x":4.6,"y":-21},{"x":4.7,"y":-26},{"x":4.8,"y":-19},{"x":4.9,"y":-15},{"x":5.08,"y":-8.3},{"x":5.1,"y":-14},{"x":5.2,"y":-18},{"x":5.3,"y":-22},{"x":5.4,"y":-16},{"x":5.5,"y":-20},{"x":5.6,"y":-25},{"x":5.7,"y":-17},{"x":5.8,"y":-13},{"x":5.9,"y":-19},{"x":6,"y":-22},{"x":6.1,"y":-16},{"x":6.2,"y":-20},{"x":6.3,"y":-18},{"x":6.4,"y":-24},{"x":6.5,"y":-17},{"x":6.6,"y":-21},{"x":6.7,"y":-26},{"x":6.8,"y":-19},{"x":6.9,"y":-12},{"x":7,"y":-22},{"x":7.1,"y":-25},{"x":7.2,"y":-20},{"x":7.3,"y":-27},{"x":7.4,"y":-23},{"x":7.5,"y":-26},{"x":7.6,"y":-37},{"x":7.7,"y":-30},{"x":7.8,"y":-21},{"x":7.9,"y":-27},{"x":8,"y":-24},{"x":8.1,"y":-33},{"x":8.2,"y":-25},{"x":8.3,"y":-29},{"x":8.45,"y":-38},{"x":8.5,"y":-31},{"x":8.6,"y":-28},{"x":8.7,"y":-34},{"x":8.8,"y":-26},{"x":8.9,"y":-30},{"x":9,"y":-23},{"x":9.1,"y":-32},{"x":9.2,"y":-38},{"x":9.3,"y":-35},{"x":9.4,"y":-30},{"x":9.5,"y":-27},{"x":9.6,"y":-37},{"x":9.7,"y":-30},{"x":9.8,"y":-26},{"x":9.9,"y":-33},{"x":10,"y":-31}],
"c_r":[{"k":0.2,"d":8.8},{"k":3,"d":0.9},{"k":40,"d":-1.3}],
"c_k":[{"k":3,"d":6.85},{"k":40,"d":6.2}]
},
"spacing":0,
"hconcat":[
{"spacing":5,"bounds":"flush","vconcat":[
{"width":397,"height":207,
 "resolve":{"axis":{"x":"independent","y":"independent"}},
 "layer":[
  {"data":{"values":[{}]},"mark":{"type":"rule","color":"#666","strokeDash":[1,1.5],"strokeWidth":1},"encoding":{"y":{"datum":0,"axis":null}}},
  {"data":{"name":"a_k"},"mark":{"type":"point","shape":"circle","filled":false,"stroke":"#333","size":32},
   "encoding":{"x":{"field":"x","type":"quantitative","scale":{"domain":[-0.38,10.35],"nice":false,"zero":false},
     "axis":{"orient":"bottom","values":[0,0.5,1,1.5,2,2.5,3,3.5,4,4.5,5,5.5,6,6.5,7,7.5,8,8.5,9,9.5,10],"labels":false,"title":null,"tickSize":{"condition":{"test":"datum.value % 2 === 0","value":-8},"value":-5}}},
    "y":{"field":"y","type":"quantitative","scale":{"domain":[-25,90],"nice":false,"zero":false},
     "axis":{"orient":"left","values":[-20,-10,0,10,20,30,40,50,60,70,80],"labelExpr":"datum.value % 40 === 0 ? datum.label : ''","tickSize":{"condition":{"test":"datum.value % 40 === 0","value":-8},"value":-5},"title":"Vertical X-Signal (pm)","titleX":-56,"titleY":193,"titleAngle":270,"titleAlign":"center","titleBaseline":"middle"}}}},
  {"data":{"name":"a_r"},"mark":{"type":"point","shape":"square","filled":false,"stroke":"#ff2020","size":42},
   "encoding":{"x":{"field":"x","type":"quantitative","scale":{"domain":[-0.38,10.35],"nice":false,"zero":false},
     "axis":{"orient":"top","values":[0,0.5,1,1.5,2,2.5,3,3.5,4,4.5,5,5.5,6,6.5,7,7.5,8,8.5,9,9.5,10],"labels":false,"title":null,"tickSize":{"condition":{"test":"datum.value % 2 === 0","value":-8},"value":-5}}},
    "y":{"field":"y","type":"quantitative","scale":{"domain":[-25,90],"nice":false,"zero":false},
     "axis":{"orient":"right","values":[-20,-10,0,10,20,30,40,50,60,70,80],"labels":false,"title":null,"tickSize":{"condition":{"test":"datum.value % 40 === 0","value":-8},"value":-5}}}}},
  {"data":{"name":"a_b"},"mark":{"type":"point","shape":"diamond","filled":false,"stroke":"#2a2aff","size":34},
   "encoding":{"x":{"field":"x","type":"quantitative","axis":null},"y":{"field":"y","type":"quantitative","axis":null}}},
  {"data":{"values":[{}]},"mark":{"type":"text","text":"(a) without electrode","align":"left","baseline":"middle"},"encoding":{"x":{"datum":-0.02,"axis":null},"y":{"datum":79,"axis":null}}},
  {"data":{"values":[{}]},"mark":{"type":"text","text":"N- Polar","align":"right","baseline":"middle"},"encoding":{"x":{"datum":9.95,"axis":null},"y":{"datum":79.5,"axis":null}}},
  {"data":{"values":[{}]},"mark":{"type":"point","shape":"circle","fill":"#777","stroke":"#333","size":40},"encoding":{"x":{"datum":0.53,"axis":null},"y":{"datum":61.4,"axis":null}}},
  {"data":{"values":[{}]},"mark":{"type":"point","shape":"square","fill":"#ff9a9a","stroke":"#ff3333","size":50},"encoding":{"x":{"datum":0.53,"axis":null},"y":{"datum":48.5,"axis":null}}},
  {"data":{"values":[{}]},"mark":{"type":"point","shape":"diamond","fill":"#9a9aff","stroke":"#2a2aff","size":40},"encoding":{"x":{"datum":0.53,"axis":null},"y":{"datum":36.4,"axis":null}}},
  {"data":{"values":[{}]},"mark":{"type":"text","text":"0.2 N/m","align":"left","baseline":"middle"},"encoding":{"x":{"datum":0.8,"axis":null},"y":{"datum":61.4,"axis":null}}},
  {"data":{"values":[{}]},"mark":{"type":"text","text":"3 N/m","align":"left","baseline":"middle","color":"#ff1a1a"},"encoding":{"x":{"datum":0.8,"axis":null},"y":{"datum":48.5,"axis":null}}},
  {"data":{"values":[{}]},"mark":{"type":"text","text":"40 N/m","align":"left","baseline":"middle","color":"#1a1aff"},"encoding":{"x":{"datum":0.8,"axis":null},"y":{"datum":36.4,"axis":null}}}
 ]},
{"width":397,"height":206,
 "resolve":{"axis":{"x":"independent","y":"independent"}},
 "layer":[
  {"data":{"values":[{}]},"mark":{"type":"rule","color":"#666","strokeDash":[1,1.5],"strokeWidth":1},"encoding":{"y":{"datum":0,"axis":null}}},
  {"data":{"name":"b_rn"},"mark":{"type":"point","shape":"square","filled":false,"stroke":"#ff2020","size":42},
   "encoding":{"x":{"field":"x","type":"quantitative","scale":{"domain":[-0.38,10.35],"nice":false,"zero":false},
     "axis":{"orient":"bottom","values":[0,0.5,1,1.5,2,2.5,3,3.5,4,4.5,5,5.5,6,6.5,7,7.5,8,8.5,9,9.5,10],"format":"~g","labelExpr":"datum.value % 2 === 0 ? datum.label : ''","labelPadding":10,"tickSize":{"condition":{"test":"datum.value % 2 === 0","value":-8},"value":-5},"title":"Voltage amplitude Vₘ (V)","titleX":210,"titleY":44,"titleBaseline":"middle"}},
    "y":{"field":"y","type":"quantitative","scale":{"domain":[-60,111],"nice":false,"zero":false},
     "axis":{"orient":"left","values":[-50,-40,-30,-20,-10,0,10,20,30,40,50,60,70,80,90,100],"labelExpr":"datum.value % 50 === 0 ? datum.label : ''","tickSize":{"condition":{"test":"datum.value % 50 === 0","value":-8},"value":-5},"title":null}}}},
  {"data":{"name":"b_bn"},"mark":{"type":"point","shape":"diamond","fill":"#d8d8ff","stroke":"#2a2aff","size":34},
   "encoding":{"x":{"field":"x","type":"quantitative","scale":{"domain":[-0.38,10.35],"nice":false,"zero":false},
     "axis":{"orient":"top","values":[0,0.5,1,1.5,2,2.5,3,3.5,4,4.5,5,5.5,6,6.5,7,7.5,8,8.5,9,9.5,10],"labels":false,"title":null,"tickSize":{"condition":{"test":"datum.value % 2 === 0","value":-8},"value":-5}}},
    "y":{"field":"y","type":"quantitative","scale":{"domain":[-60,111],"nice":false,"zero":false},
     "axis":{"orient":"right","values":[-50,-40,-30,-20,-10,0,10,20,30,40,50,60,70,80,90,100],"labels":false,"title":null,"tickSize":{"condition":{"test":"datum.value % 50 === 0","value":-8},"value":-5}}}}},
  {"data":{"name":"b_rg"},"mark":{"type":"point","shape":"square","fill":"#ffb4b4","stroke":"#ff2a2a","size":42},
   "encoding":{"x":{"field":"x","type":"quantitative","axis":null},"y":{"field":"y","type":"quantitative","axis":null}}},
  {"data":{"name":"b_bg"},"mark":{"type":"point","shape":"diamond","fill":"#7c7cff","stroke":"#2a2aff","size":34},
   "encoding":{"x":{"field":"x","type":"quantitative","axis":null},"y":{"field":"y","type":"quantitative","axis":null}}},
  {"data":{"values":[{}]},"mark":{"type":"text","text":"(b) with electrode","align":"left","baseline":"middle"},"encoding":{"x":{"datum":-0.04,"axis":null},"y":{"datum":94,"axis":null}}},
  {"data":{"values":[{}]},"mark":{"type":"text","text":"N- Polar","align":"right","baseline":"middle"},"encoding":{"x":{"datum":8.05,"axis":null},"y":{"datum":77,"axis":null}}},
  {"data":{"values":[{}]},"mark":{"type":"rule","color":"#444","strokeWidth":1},"encoding":{"x":{"datum":8.95,"axis":null},"x2":{"datum":8.25},"y":{"datum":76,"axis":null}}},
  {"data":{"values":[{}]},"mark":{"type":"point","shape":"triangle-left","filled":true,"color":"#444","size":28},"encoding":{"x":{"datum":8.2,"axis":null},"y":{"datum":76,"axis":null}}},
  {"data":{"values":[{}]},"mark":{"type":"point","shape":"M0,-1A0.49,1,0,1,1,0,1A0.49,1,0,1,1,0,-1Z","filled":false,"stroke":"#555","strokeWidth":1,"size":1849},"encoding":{"x":{"datum":9.23,"axis":null},"y":{"datum":60,"axis":null}}},
  {"data":{"values":[{}]},"mark":{"type":"text","text":"Ga- Polar","align":"right","baseline":"middle"},"encoding":{"x":{"datum":6.78,"axis":null},"y":{"datum":-43.8,"axis":null}}},
  {"data":{"values":[{}]},"mark":{"type":"rule","color":"#444","strokeWidth":1},"encoding":{"x":{"datum":7.8,"axis":null},"x2":{"datum":7.0},"y":{"datum":-44,"axis":null}}},
  {"data":{"values":[{}]},"mark":{"type":"point","shape":"triangle-left","filled":true,"color":"#444","size":28},"encoding":{"x":{"datum":6.95,"axis":null},"y":{"datum":-44,"axis":null}}},
  {"data":{"values":[{}]},"mark":{"type":"point","shape":"M0,-1A0.47,1,0,1,1,0,1A0.47,1,0,1,1,0,-1Z","filled":false,"stroke":"#555","strokeWidth":1,"size":1849},"encoding":{"x":{"datum":7.92,"axis":null},"y":{"datum":-29.5,"axis":null}}}
 ]}
]},
{"width":239,"height":418,
 "resolve":{"axis":{"x":"independent","y":"independent"}},
 "layer":[
  {"data":{"values":[{}]},"mark":{"type":"rule","color":"#666","strokeDash":[1,1.5],"strokeWidth":1},"encoding":{"x":{"datum":0.143,"axis":null},"x2":{"datum":68},"y":{"datum":0,"axis":null}}},
  {"data":{"name":"c_r"},"mark":{"type":"line","color":"#ff8c8c","strokeWidth":1.5},
   "encoding":{"x":{"field":"k","type":"quantitative","scale":{"type":"log","domain":[0.1,68],"nice":false},
     "axis":{"orient":"bottom","values":[0.2,0.3,0.4,0.5,0.6,0.7,0.8,0.9,1,2,3,4,5,6,7,8,9,10,20,30,40,50,60],"format":"~g","labelExpr":"datum.value === 1 || datum.value === 10 ? datum.label : ''","labelPadding":14,"tickSize":{"condition":{"test":"datum.value === 1 || datum.value === 10","value":-9},"value":-5},"title":"Spring constant (N/m)","titleX":129,"titleY":44,"titleBaseline":"middle"}},
    "y":{"field":"d","type":"quantitative","scale":{"domain":[-2.95,10],"nice":false,"zero":false},
     "axis":{"orient":"right","values":[-2,-1,0,1,2,3,4,5,6,7,8,9],"labelExpr":"datum.value % 2 === 0 ? datum.label : ''","tickSize":{"condition":{"test":"datum.value % 2 === 0","value":-8},"value":-5},"title":"d₃₃ᵉˣᵖ(pm/V)","titleX":38,"titleY":222,"titleAngle":270,"titleAlign":"center","titleBaseline":"middle"}}}},
  {"data":{"name":"c_r"},"mark":{"type":"point","shape":"diamond","fill":"#ff6464","stroke":"#ff3a3a","strokeWidth":1,"size":216},
   "encoding":{"x":{"field":"k","type":"quantitative","scale":{"type":"log","domain":[0.1,68],"nice":false},
     "axis":{"orient":"top","values":[0.2,0.3,0.4,0.5,0.6,0.7,0.8,0.9,1,2,3,4,5,6,7,8,9,10,20,30,40,50,60],"labels":false,"title":null,"tickSize":{"condition":{"test":"datum.value === 1 || datum.value === 10","value":-9},"value":-5}}},
    "y":{"field":"d","type":"quantitative","scale":{"domain":[-2.95,10],"nice":false,"zero":false},
     "axis":{"orient":"left","values":[-2,-1,0,1,2,3,4,5,6,7,8,9],"labels":false,"title":null,"tickSize":{"condition":{"test":"datum.value % 2 === 0","value":-8},"value":-5}}}}},
  {"data":{"name":"c_k"},"mark":{"type":"line","color":"#999","strokeWidth":1.5},
   "encoding":{"x":{"field":"k","type":"quantitative","axis":null},"y":{"field":"d","type":"quantitative","axis":null}}},
  {"data":{"name":"c_k"},"mark":{"type":"point","shape":"circle","fill":"#666","stroke":"#333","strokeWidth":1,"size":100},
   "encoding":{"x":{"field":"k","type":"quantitative","axis":null},"y":{"field":"d","type":"quantitative","axis":null}}},
  {"data":{"values":[{}]},"mark":{"type":"text","text":"N- Polar (c)","align":"right","baseline":"middle"},"encoding":{"x":{"datum":45.2,"axis":null},"y":{"datum":9.26,"axis":null}}},
  {"data":{"values":[{}]},"mark":{"type":"text","text":"with electrode","align":"center","baseline":"middle"},"encoding":{"x":{"datum":6.63,"axis":null},"y":{"datum":5.23,"axis":null}}},
  {"data":{"values":[{}]},"mark":{"type":"text","text":"without electrode","align":"center","baseline":"middle"},"encoding":{"x":{"datum":3.05,"axis":null},"y":{"datum":-1.82,"axis":null}}},
  {"data":{"values":[{}]},"mark":{"type":"point","shape":"M0,-1A0.33,1,0,1,1,0,1A0.33,1,0,1,1,0,-1Z","filled":false,"stroke":"#444","strokeWidth":1,"size":784},"encoding":{"x":{"datum":7.6,"axis":null},"y":{"datum":6.63,"axis":null}}},
  {"data":{"values":[{}]},"mark":{"type":"rule","color":"#444","strokeWidth":1},"encoding":{"x":{"datum":7.6,"axis":null},"y":{"datum":6.2,"axis":null},"y2":{"datum":5.85}}},
  {"data":{"values":[{}]},"mark":{"type":"point","shape":"triangle-down","filled":true,"color":"#444","size":24},"encoding":{"x":{"datum":7.6,"axis":null},"y":{"datum":5.8,"axis":null}}},
  {"data":{"values":[{}]},"mark":{"type":"point","shape":"M0,-1A0.35,1,0,1,1,0,1A0.35,1,0,1,1,0,-1Z","filled":false,"stroke":"#ff4040","strokeWidth":1,"size":729},"encoding":{"x":{"datum":16.8,"axis":null},"y":{"datum":-0.46,"axis":null}}},
  {"data":{"values":[{}]},"mark":{"type":"rule","color":"#ff4040","strokeWidth":1},"encoding":{"x":{"datum":16.8,"axis":null},"y":{"datum":-0.85,"axis":null},"y2":{"datum":-1.3}}},
  {"data":{"values":[{}]},"mark":{"type":"point","shape":"triangle-down","filled":true,"color":"#ff4040","size":24},"encoding":{"x":{"datum":16.8,"axis":null},"y":{"datum":-1.36,"axis":null}}}
 ]}
]
}
